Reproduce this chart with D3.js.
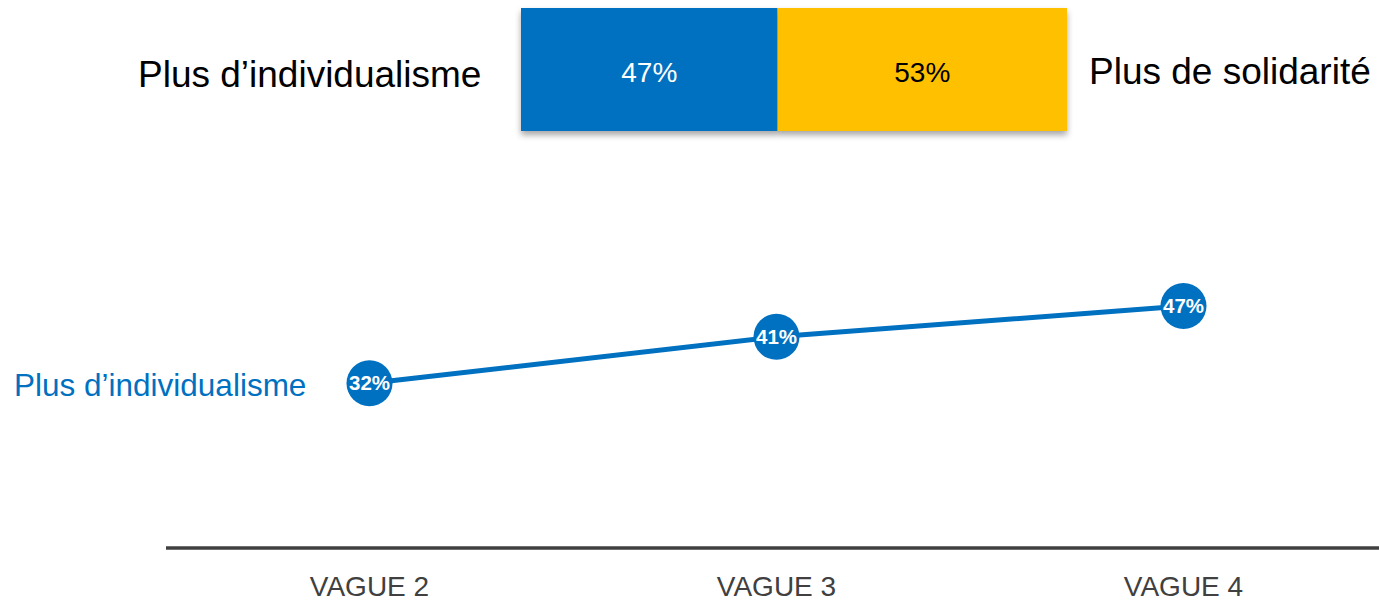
<!DOCTYPE html>
<html><head><meta charset="utf-8">
<script src="https://cdn.jsdelivr.net/npm/d3@7"></script>
<style>body{margin:0;background:#fff}svg{display:block}</style>
</head><body>
<svg id="c" width="1379" height="601"></svg>
<script>
const barCategories = ["Plus d’individualisme", "Plus de solidarité"];
const barValues = [47, 53];
const waves = ["VAGUE 2", "VAGUE 3", "VAGUE 4"];
const lineValues = [32, 41, 47];
const lineLabel = "Plus d’individualisme";

const svg = d3.select("#c");
const font = "Arial, 'Liberation Sans', sans-serif";
const blue = "#0070C0", yellow = "#FFC000";

const defs = svg.append("defs");
const f = defs.append("filter").attr("id","sh").attr("x","-5%").attr("y","-10%").attr("width","110%").attr("height","130%");
f.append("feDropShadow").attr("dx",0).attr("dy",4).attr("stdDeviation",3).attr("flood-color","#000").attr("flood-opacity",0.35);

// stacked bar
const bx = d3.scaleLinear().domain([0, d3.sum(barValues)]).range([521, 1067]);
let acc = 0;
const segs = barValues.map((v,i)=>{const s={i,v,x0:acc,x1:acc+v};acc+=v;return s;});
const bg = svg.append("g").attr("filter","url(#sh)");
bg.selectAll("rect").data(segs).join("rect")
  .attr("x",d=>bx(d.x0)).attr("width",d=>bx(d.x1)-bx(d.x0))
  .attr("y",8).attr("height",123)
  .attr("fill",d=>d.i===0?blue:yellow);
svg.selectAll("text.seg").data(segs).join("text").attr("class","seg")
  .attr("x",d=>(bx(d.x0)+bx(d.x1))/2).attr("y",82)
  .attr("text-anchor","middle").attr("font-family",font).attr("font-size",28)
  .attr("fill",d=>d.i===0?"#fff":"#000").text(d=>d.v+"%");
svg.append("text").attr("x",138).attr("y",87).attr("font-family",font).attr("font-size",37).attr("fill","#000").text(barCategories[0]);
svg.append("text").attr("x",1089).attr("y",84).attr("font-family",font).attr("font-size",37).attr("fill","#000").text(barCategories[1]);

// line chart
const x = d3.scaleBand().domain(waves).range([166, 1387]);
const y = d3.scaleLinear().domain([0,100]).range([548, 33]);
const cx = d=>x(d)+x.bandwidth()/2;

svg.append("line").attr("x1",166).attr("x2",1379).attr("y1",548).attr("y2",548)
  .attr("stroke","#404040").attr("stroke-width",3.5);
svg.selectAll("text.tick").data(waves).join("text").attr("class","tick")
  .attr("x",d=>cx(d)).attr("y",596).attr("text-anchor","middle")
  .attr("font-family","'Liberation Sans Narrow', 'Arial Narrow', Arial, sans-serif").attr("font-size",28)
  .attr("fill","#404040").text(d=>d);

const pts = waves.map((w,i)=>({w,v:lineValues[i]}));
svg.append("path").datum(pts)
  .attr("d", d3.line().x(d=>cx(d.w)).y(d=>y(d.v)))
  .attr("fill","none").attr("stroke",blue).attr("stroke-width",5);
svg.selectAll("circle.pt").data(pts).join("circle").attr("class","pt")
  .attr("cx",d=>cx(d.w)).attr("cy",d=>y(d.v)).attr("r",23).attr("fill",blue);
svg.selectAll("text.pl").data(pts).join("text").attr("class","pl")
  .attr("x",d=>cx(d.w)).attr("y",d=>y(d.v)+7).attr("text-anchor","middle")
  .attr("font-family",font).attr("font-weight","bold").attr("font-size",20.5)
  .attr("fill","#fff").text(d=>d.v+"%");
svg.append("text").attr("x",14).attr("y",396).attr("font-family",font).attr("font-size",31.5)
  .attr("fill",blue).text(lineLabel);
</script>
</body></html>
